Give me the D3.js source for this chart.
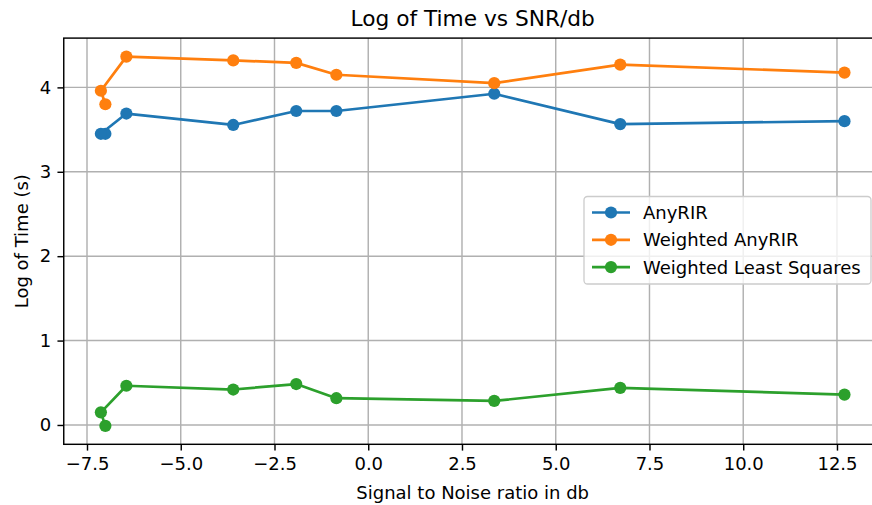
<!DOCTYPE html>
<html>
<head>
<meta charset="utf-8">
<script src="https://cdn.jsdelivr.net/npm/d3@7"></script>
<style>
  html, body { margin: 0; padding: 0; background: #fff; overflow: hidden; }
  svg { display: block; font-family: "DejaVu Sans", sans-serif; }
</style>
</head>
<body>
<svg id="chart" width="872" height="505"></svg>
<script>
// ---- data ----
const snr = [-7.01, -7.13, -6.45, -3.6, -1.92, -0.85, 3.36, 6.72, 12.7];
const anyRIR = [3.45, 3.45, 3.69, 3.555, 3.72, 3.72, 3.925, 3.565, 3.60];
const weightedAnyRIR = [3.80, 3.96, 4.365, 4.32, 4.29, 4.15, 4.05, 4.27, 4.175];
const weightedLeastSquares = [-0.01, 0.15, 0.465, 0.42, 0.485, 0.317, 0.285, 0.44, 0.36];
const seriesNames = ["AnyRIR", "Weighted AnyRIR", "Weighted Least Squares"];
const seriesColors = ["#1f77b4", "#ff7f0e", "#2ca02c"];
const xTicks = [-7.5, -5.0, -2.5, 0.0, 2.5, 5.0, 7.5, 10.0, 12.5];
const yTicks = [0, 1, 2, 3, 4];
const titleText = "Log of Time vs SNR/db";
const xLabelText = "Signal to Noise ratio in db";
const yLabelText = "Log of Time (s)";

const series = [anyRIR, weightedAnyRIR, weightedLeastSquares];

// ---- layout ----
const svg = d3.select("#chart");
const pL = 63.75, pR = 881.6, pT = 38.1, pB = 444.3;
const fs = 18, lw = 2.7, mr = 6.1, gw = 1.44, tl = 6.3;

const x = d3.scaleLinear().domain([-8.12, 13.69]).range([pL, pR]);
const y = d3.scaleLinear().domain([-0.229, 4.584]).range([pB, pT]);

const clipId = "plotclip";
svg.append("defs").append("clipPath").attr("id", clipId)
  .append("rect").attr("x", pL).attr("y", pT).attr("width", pR - pL).attr("height", pB - pT);

// grid
const grid = svg.append("g").attr("clip-path", `url(#${clipId})`);
grid.selectAll(".gx").data(xTicks).join("line")
  .attr("x1", d => x(d)).attr("x2", d => x(d)).attr("y1", pT).attr("y2", pB)
  .attr("stroke", "#b0b0b0").attr("stroke-width", gw);
grid.selectAll(".gy").data(yTicks).join("line")
  .attr("y1", d => y(d)).attr("y2", d => y(d)).attr("x1", pL).attr("x2", pR)
  .attr("stroke", "#b0b0b0").attr("stroke-width", gw);

// axes
const fmtX = d => d3.format(".1f")(d).replace("-", "\u2212");
const xAxis = d3.axisBottom(x).tickValues(xTicks).tickFormat(fmtX).tickSize(tl).tickPadding(tl);
const yAxis = d3.axisLeft(y).tickValues(yTicks).tickFormat(d3.format("d")).tickSize(tl).tickPadding(tl);

const gx = svg.append("g").attr("transform", `translate(0,${pB})`).call(xAxis);
const gy = svg.append("g").attr("transform", `translate(${pL},0)`).call(yAxis);
[gx, gy].forEach(g => {
  g.select(".domain").remove();
  g.selectAll(".tick line").attr("stroke", "#000").attr("stroke-width", gw);
  g.selectAll(".tick text").attr("fill", "#000").style("font-size", fs + "px")
    .style("font-family", "DejaVu Sans, sans-serif");
});

// lines and markers
const plot = svg.append("g").attr("clip-path", `url(#${clipId})`);
series.forEach((vals, i) => {
  const pts = snr.map((s, j) => [s, vals[j]]);
  plot.append("path").datum(pts)
    .attr("fill", "none").attr("stroke", seriesColors[i]).attr("stroke-width", lw)
    .attr("stroke-linejoin", "round")
    .attr("d", d3.line().x(d => x(d[0])).y(d => y(d[1])));
  plot.selectAll(null).data(pts).join("circle")
    .attr("cx", d => x(d[0])).attr("cy", d => y(d[1])).attr("r", mr)
    .attr("fill", seriesColors[i]);
});

// spines
svg.append("rect").attr("x", pL).attr("y", pT).attr("width", pR - pL).attr("height", pB - pT)
  .attr("fill", "none").attr("stroke", "#000").attr("stroke-width", gw);

// title and labels
svg.append("text").attr("x", (pL + pR) / 2).attr("y", 25.5).attr("text-anchor", "middle")
  .style("font-size", "21.7px").attr("fill", "#000").text(titleText);
svg.append("text").attr("x", (pL + pR) / 2).attr("y", 499).attr("text-anchor", "middle")
  .style("font-size", fs + "px").attr("fill", "#000").text(xLabelText);
svg.append("text").attr("transform", `translate(28,${(pT + pB) / 2}) rotate(-90)`)
  .attr("text-anchor", "middle").style("font-size", fs + "px").attr("fill", "#000").text(yLabelText);

// legend
const lg = svg.append("g");
lg.append("rect").attr("x", 584).attr("y", 196.5).attr("width", 287).attr("height", 87.5)
  .attr("rx", 3.5).attr("ry", 3.5)
  .attr("fill", "rgba(255,255,255,0.8)").attr("stroke", "#cccccc").attr("stroke-width", 1.3);
seriesNames.forEach((name, i) => {
  const yy = 212.5 + i * 27.3;
  lg.append("line").attr("x1", 592).attr("x2", 630).attr("y1", yy).attr("y2", yy)
    .attr("stroke", seriesColors[i]).attr("stroke-width", lw);
  lg.append("circle").attr("cx", 611).attr("cy", yy).attr("r", mr).attr("fill", seriesColors[i]);
  lg.append("text").attr("x", 643).attr("y", yy).attr("dy", "0.36em")
    .style("font-size", fs + "px").attr("fill", "#000").text(name);
});
</script>
</body>
</html>
